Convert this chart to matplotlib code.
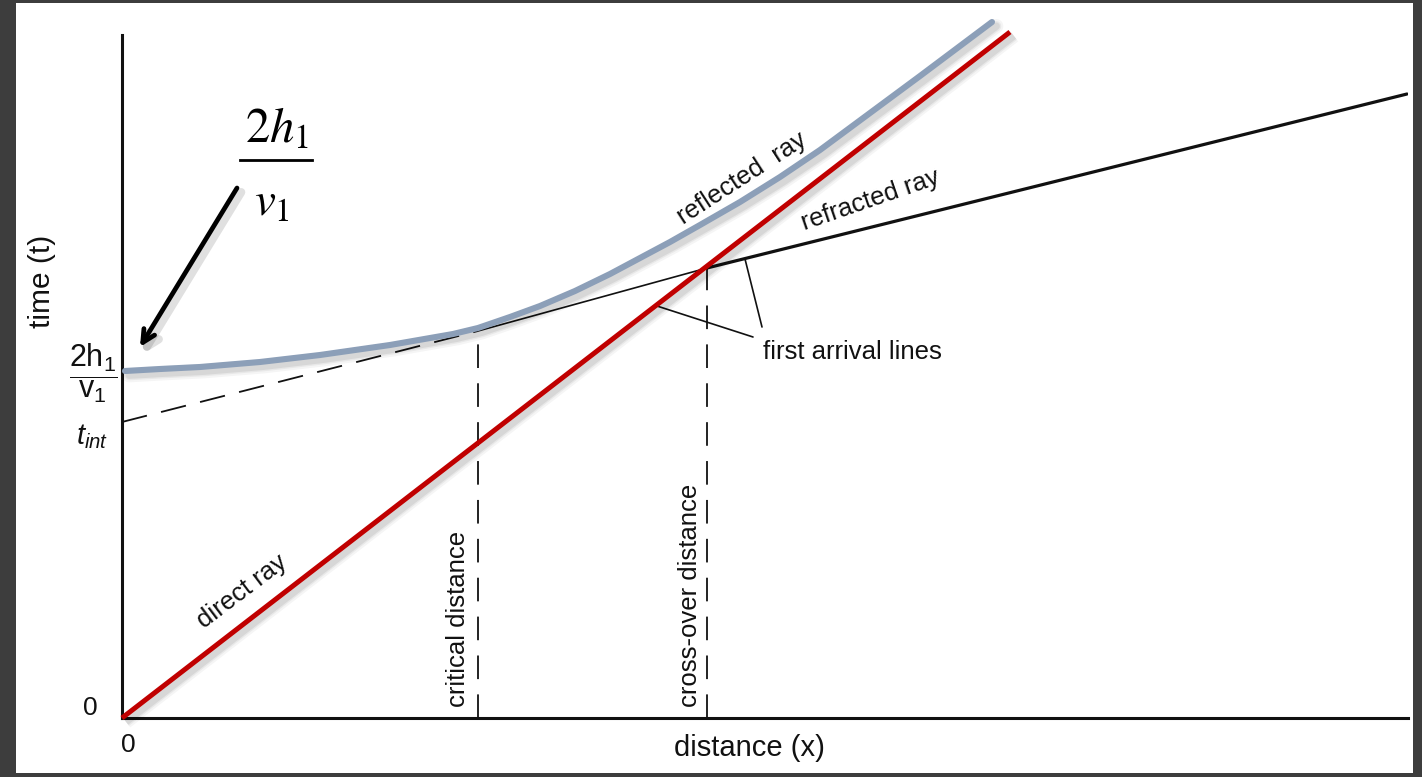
import matplotlib
matplotlib.use("Agg")
import matplotlib.pyplot as plt
import matplotlib.patheffects as pe
from matplotlib.patches import Rectangle

plt.rcParams['font.family'] = ['Liberation Sans', 'DejaVu Sans']
plt.rcParams['lines.scale_dashes'] = False
plt.rcParams['mathtext.fontset'] = 'custom'
plt.rcParams['mathtext.rm'] = 'Liberation Sans'
plt.rcParams['mathtext.it'] = 'Liberation Sans:italic'

# ---------------- data (distance units, time units) ----------------
direct_x = [0.0, 8.88]
direct_t = [0.0, 6.86]

refr_x = [0.0, 3.56, 5.85, 12.85]
refr_t = [2.96, 3.87, 4.50, 6.24]

refl_x = [0.03, 0.38, 0.78, 1.38, 1.98, 2.68, 3.31, 3.56, 3.88, 4.18, 4.53,
          4.88, 5.18, 5.48, 5.78, 6.18, 6.58, 6.98, 7.48, 7.98, 8.38, 8.70]
refl_t = [3.47, 3.49, 3.51, 3.56, 3.63, 3.73, 3.84, 3.90, 4.01, 4.12, 4.27,
          4.44, 4.60, 4.76, 4.93, 5.16, 5.41, 5.68, 6.05, 6.42, 6.72, 6.96]

critical_x = 3.56
critical_t = 3.87
crossover_x = 5.85
crossover_t = 4.50

x_max = 12.86
t_axis_max = 6.83

# ---------------- figure ----------------
W, H = 1422, 777
fig = plt.figure(figsize=(W / 100, H / 100), dpi=100, facecolor='#3d3d3d')
fig.patches.append(Rectangle((16 / W, (H - 773) / H), (1413 - 16) / W, (773 - 3) / H,
                             transform=fig.transFigure, facecolor='white',
                             edgecolor='none', zorder=-10))

ax = fig.add_axes([122 / W, (H - 718) / H, 1286 / W, 700 / H])
ax.set_zorder(5)
ax.set_xlim(0, x_max)
ax.set_ylim(0, 7.0)
ax.patch.set_alpha(0)
for s in ['top', 'right']:
    ax.spines[s].set_visible(False)
for s in ['left', 'bottom']:
    ax.spines[s].set_linewidth(2.2)
    ax.spines[s].set_color('#111111')
ax.spines['left'].set_bounds(0, t_axis_max)
ax.spines['bottom'].set_bounds(0, x_max)
ax.set_xticks([])
ax.set_yticks([])


def soft_shadow(lw):
    return [pe.SimpleLineShadow(offset=(3, -3), shadow_color='k', alpha=0.04, linewidth=lw + 6),
            pe.SimpleLineShadow(offset=(3, -3), shadow_color='k', alpha=0.05, linewidth=lw + 3),
            pe.SimpleLineShadow(offset=(3, -3), shadow_color='k', alpha=0.07, linewidth=lw + 1),
            pe.Normal()]


# dashed intercept extension (refracted line back to t_int)
ax.plot(refr_x[:2], refr_t[:2], color='#111111', lw=1.3, dashes=(18.5, 10.5), zorder=3)
# thin refracted segment between critical and crossover
ax.plot(refr_x[1:3], refr_t[1:3], color='#111111', lw=1.2, zorder=3)
# thick refracted first-arrival segment
ax.plot(refr_x[2:], refr_t[2:], color='#111111', lw=2.3, zorder=3, solid_capstyle='round')

# vertical dashed markers
ax.plot([critical_x, critical_x], [0, critical_t], color='#111111', lw=1.3,
        dashes=(17, 11), zorder=3)
ax.plot([crossover_x, crossover_x], [0, crossover_t], color='#111111', lw=1.3,
        dashes=(17, 11), zorder=3)

# reflected ray (grey-blue)
ax.plot(refl_x, refl_t, color='#8C9FB8', lw=4.4, zorder=4, clip_on=False,
        solid_capstyle='round', solid_joinstyle='round', path_effects=soft_shadow(4.4))

# direct ray (red)
ax.plot(direct_x, direct_t, color='#C00000', lw=3.6, zorder=5, clip_on=False,
        solid_capstyle='butt', path_effects=soft_shadow(3.6))

# first arrival leader lines
ax.annotate('', xy=(5.35, 4.12), xytext=(6.31, 3.81),
            arrowprops=dict(arrowstyle='-', color='#111111', lw=1.2, shrinkA=0, shrinkB=0))
ax.annotate('', xy=(6.23, 4.59), xytext=(6.40, 3.91),
            arrowprops=dict(arrowstyle='-', color='#111111', lw=1.2, shrinkA=0, shrinkB=0))

# ---------------- text ----------------
tc = '#111111'
fs = 18.5
ax.text(6.41, 3.66, 'first arrival lines', fontsize=fs, color=tc, ha='left', va='center')
ax.text(1.20, 1.26, 'direct ray', fontsize=fs, color=tc, rotation=37,
        ha='center', va='center', rotation_mode='anchor')
ax.text(3.36, 0.99, 'critical distance', fontsize=fs, color=tc, rotation=90,
        ha='center', va='center', rotation_mode='anchor')
ax.text(5.68, 1.23, 'cross-over distance', fontsize=fs, color=tc, rotation=90,
        ha='center', va='center', rotation_mode='anchor')
ax.text(6.20, 5.40, 'reflected  ray', fontsize=fs, color=tc, rotation=33,
        ha='center', va='center', rotation_mode='anchor')
ax.text(7.48, 5.18, 'refracted ray', fontsize=fs, color=tc, rotation=19,
        ha='center', va='center', rotation_mode='anchor')

ax.text(6.27, -0.30, 'distance (x)', fontsize=21, color=tc, ha='center', va='center',
        clip_on=False)
ax.text(-0.80, 4.37, 'time (t)', fontsize=21.5, color=tc, ha='center', va='center',
        rotation=90, clip_on=False)

ax.text(-0.32, 0.10, '0', fontsize=19, color=tc, ha='center', va='center', clip_on=False)
ax.text(0.06, -0.27, '0', fontsize=19, color=tc, ha='center', va='center', clip_on=False)
ax.text(-0.29, 3.45, r'$\dfrac{\mathrm{2h}_\mathrm{1}}{\mathrm{v}_\mathrm{1}}$', fontsize=22,
        color=tc, ha='center', va='center', clip_on=False)
ax.text(-0.30, 2.81, r'$t_{int}$', fontsize=21, color=tc, ha='center', va='center',
        clip_on=False)

# big serif annotation (numerator, bar, denominator) with arrow
ax.text(1.55, 5.88, r'$2h_1$', fontsize=35, color='black', ha='center',
        va='center', math_fontfamily='stix', clip_on=False)
ax.plot([1.18, 1.90], [5.58, 5.58], color='black', lw=2.0, clip_on=False, zorder=6)
ax.text(1.50, 5.14, r'$v_1$', fontsize=34, color='black', ha='center',
        va='center', math_fontfamily='stix', clip_on=False)
ax.annotate('', xy=(0.18, 3.71), xytext=(1.15, 5.30),
            arrowprops=dict(arrowstyle='->,head_length=0.9,head_width=0.45', color='black',
                            lw=3.4, shrinkA=0, shrinkB=0,
                            path_effects=[pe.SimpleLineShadow(offset=(3, -3), shadow_color='k',
                                                              alpha=0.12, linewidth=6),
                                          pe.Normal()]))

fig.savefig('out.png', dpi=100, facecolor=fig.get_facecolor())
